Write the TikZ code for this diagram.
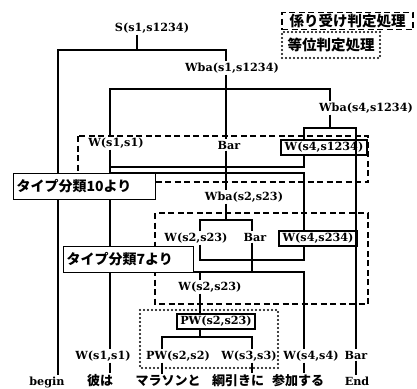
\documentclass[tikz,border=0pt]{standalone}
\usepackage{fontspec}
\setmainfont{DejaVu Serif}
\newfontfamily\jp{Noto Sans CJK JP}

\begin{document}
\begin{tikzpicture}[x=1pt, y=-1pt, line width=1.1pt,
  every node/.style={inner sep=1pt, font=\bfseries\fontsize{11.2}{14}\selectfont},
  wbox/.style={draw, fill=white, line width=1.7pt, inner xsep=3.5pt, inner ysep=2pt},
  note/.style={draw, fill=white, line width=1pt, anchor=north west, minimum height=26pt, align=left, inner xsep=3pt, font=\jp\bfseries\fontsize{14}{16}\selectfont},
  word/.style={font=\jp\bfseries\fontsize{13}{15}\selectfont},
  dep/.style={dash pattern=on 6pt off 3.5pt, line width=1.4pt},
  coord/.style={dash pattern=on 0pt off 4pt, line cap=round, line width=2.2pt}]
\useasboundingbox (0,0) rectangle (417,388);

% legend
\node[draw, dep, minimum width=131pt, minimum height=17pt, inner sep=0pt, font=\jp\bfseries\fontsize{14.5}{16}\selectfont] (legdep) at (347.5,21) {係り受け判定処理};
\node[draw, coord, minimum width=98pt, minimum height=26pt, inner sep=0pt, font=\jp\bfseries\fontsize{14.5}{16}\selectfont] (legco) at (331,45) {等位判定処理};

% regions
\draw[dep] (78,136) rectangle (368,182);
\draw[dep] (155,213) rectangle (368,304);
\draw[coord] (140,310) rectangle (278,368);

% labels
\node (s) at (152,28) {S(s1,s1234)};
\node (wba1) at (232,68) {Wba(s1,s1234)};
\node (wba4) at (366,108) {Wba(s4,s1234)};
\node (w11u) at (116,143) {W(s1,s1)};
\node (baru) at (229,145) {Bar};
\node[wbox] (w4a) at (324,147.5) {W(s4,s1234)};
\node (wba2) at (244,197) {Wba(s2,s23)};
\node (w223u) at (196,238) {W(s2,s23)};
\node (barm) at (255,237) {Bar};
\node[wbox] (w4b) at (318,238.5) {W(s4,s234)};
\node (w223l) at (210,287) {W(s2,s23)};
\node[wbox] (pw223) at (216,321.5) {PW(s2,s23)};
\node (w11l) at (103,356) {W(s1,s1)};
\node (pw22) at (178,356) {PW(s2,s2)};
\node (w33) at (249,356) {W(s3,s3)};
\node (w44) at (311,356) {W(s4,s4)};
\node (barb) at (356,355) {Bar};
\node (bgn) at (47,382) {begin};
\node[word] (kare) at (100,381) {彼は};
\node[word] (mara) at (168,381) {マラソンと};
\node[word] (tsuna) at (238,381) {綱引きに};
\node[word] (sanka) at (298,381) {参加する};
\node (end) at (357,381) {End};

% line columns and rows
\coordinate (xb) at (58,0);
\coordinate (xw1) at (110,0);
\coordinate (xs) at (137,0);
\coordinate (xp2) at (162,0);
\coordinate (xw2) at (200,0);
\coordinate (xbar) at (226,0);
\coordinate (xw3) at (252,0);
\coordinate (xw4) at (304,0);
\coordinate (xwb4) at (330,0);
\coordinate (xend) at (356,0);
\coordinate (r1) at (0,50);
\coordinate (r2) at (0,89);
\coordinate (r3) at (0,128);
\coordinate (r4) at (0,167);
\coordinate (r5) at (0,173);
\coordinate (r6) at (0,220);
\coordinate (r7) at (0,260);
\coordinate (r8) at (0,272);
\coordinate (r9) at (0,337);

% S(s1,s1234)
\draw (s.south -| xs) -- (xs |- r1);
\draw (bgn.north -| xb) -- (xb |- r1) -- (xbar |- r1) -- (wba1.north -| xbar);
% Wba(s1,s1234)
\draw (wba1.south -| xbar) -- (baru.north -| xbar);
\draw (w11u.north -| xw1) -- (xw1 |- r2) -- (xwb4 |- r2) -- (wba4.north -| xwb4);
% Wba(s4,s1234)
\draw (wba4.south -| xwb4) -- (xwb4 |- r3);
\draw (w4a.north -| xw4) -- (xw4 |- r3) -- (xend |- r3) -- (barb.north -| xend);
% W(s1,s1)
\draw (w11u.south -| xw1) -- (w11l.north -| xw1);
\draw (xw1 |- r4) -- (xw4 |- r4) -- (w4a.south -| xw4);
\draw (xw1 |- r5) -- (xw4 |- r5) -- (w4b.north -| xw4);
% Wba(s2,s23)
\draw (baru.south -| xbar) -- (wba2.north -| xbar);
\draw (wba2.south -| xbar) -- (xbar |- r6);
\draw (w223u.north -| xw2) -- (xw2 |- r6) -- (xw3 |- r6) -- (barm.north -| xw3);
\draw (w223u.south -| xw2) -- (xw2 |- r7) -- (xw4 |- r7) -- (w4b.south -| xw4);
\draw (barm.south -| xw3) -- (xw3 |- r8);
\draw (xw1 |- r8) -- (xw4 |- r8) -- (w44.north -| xw4);
\draw (xw2 |- r8) -- (w223l.north -| xw2);
% PW(s2,s23)
\draw (w223l.south -| xw2) -- (pw223.north -| xw2);
\draw (pw223.south -| xw2) -- (xw2 |- r9);
\draw (pw22.north -| xp2) -- (xp2 |- r9) -- (xw3 |- r9) -- (w33.north -| xw3);
% words
\draw (w11l.south -| xw1) -- (kare.north -| xw1);
\draw (pw22.south -| xp2) -- (mara.north -| xp2);
\draw (w33.south -| xw3) -- (tsuna.north -| xw3);
\draw (w44.south -| xw4) -- (sanka.north -| xw4);
\draw (barb.south -| xend) -- (end.north -| xend);

% type notes
\node[note, text width=136pt] (t10) at (13,173) {タイプ分類10より};
\node[note, text width=124pt] (t7) at (63,246) {タイプ分類7より};
\end{tikzpicture}
\end{document}
